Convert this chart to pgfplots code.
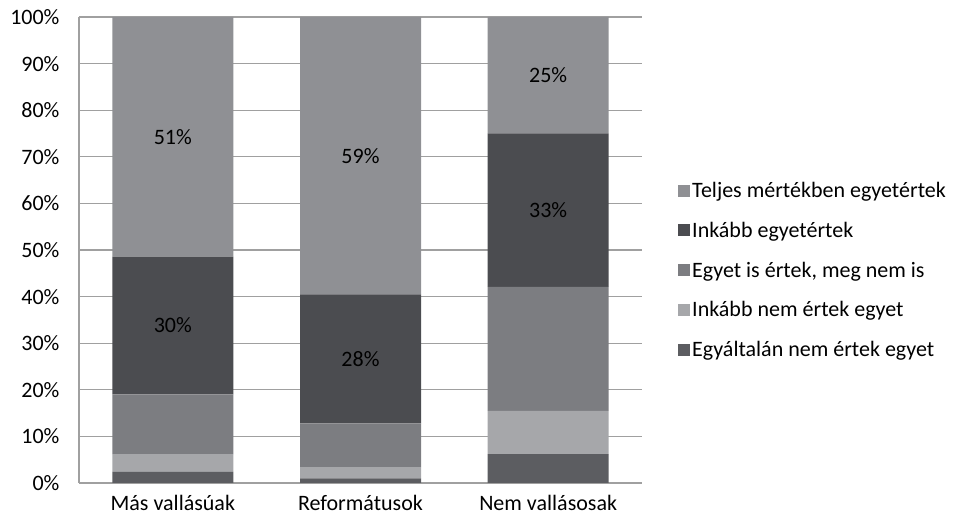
\documentclass[border=0pt]{standalone}
\usepackage{fontspec}
\setmainfont{Carlito}
\usepackage{pgfplots}
\pgfplotsset{compat=1.18}

\definecolor{cTeljes}{HTML}{8F9094}
\definecolor{cInkabb}{HTML}{4B4C50}
\definecolor{cEgyet}{HTML}{7C7D81}
\definecolor{cInkNem}{HTML}{A6A7AA}
\definecolor{cEgyalt}{HTML}{5C5D61}
\definecolor{gridgray}{HTML}{A0A0A0}

\newcommand{\lblfont}{\fontsize{22}{26}\selectfont}

\begin{document}
\begin{tikzpicture}
\useasboundingbox (-79pt,-39pt) rectangle (875pt,483pt);
\begin{axis}[
    at={(0pt,0pt)}, anchor=south west,
    scale only axis,
    width=563pt, height=466pt,
    ybar stacked,
    bar width=121pt,
    xmin=-0.5, xmax=2.5,
    ymin=0, ymax=100,
    xtick={0,1,2},
    xticklabels={Más vallásúak, Reformátusok, Nem vallásosak},
    ytick={0,10,...,100},
    yticklabel={\pgfmathprintnumber{\tick}\%},
    /pgf/number format/assume math mode=true,
    tick label style={font=\lblfont, text=black},
    yticklabel style={xshift=-16pt},
    xticklabel style={yshift=-9pt},
    major tick length=0pt,
    axis x line*=bottom,
    axis y line*=left,
    axis line style={draw=gridgray, line width=1.2pt},
    ymajorgrids,
    major grid style={draw=gridgray, line width=1.2pt},
    reverse legend,
    legend cell align=left,
    legend image code/.code={\fill[#1] (0pt,-6pt) rectangle (12pt,6pt);},
    legend style={draw=none, fill=none, at={(1.064,0.65)}, anchor=north west,
        font=\lblfont, row sep=19pt, inner sep=0pt},
]
\addplot[fill=cEgyalt, draw=none] coordinates {(0,2.4) (1,1.0) (2,6.2)};
\addplot[fill=cInkNem, draw=none] coordinates {(0,3.8) (1,2.4) (2,9.3)};
\addplot[fill=cEgyet, draw=none] coordinates {(0,12.8) (1,9.4) (2,26.6)};
\addplot[fill=cInkabb, draw=none] coordinates {(0,29.6) (1,27.7) (2,32.9)};
\addplot[fill=cTeljes, draw=none] coordinates {(0,51.4) (1,59.5) (2,25.0)};
\legend{Egyáltalán nem értek egyet, Inkább nem értek egyet, {Egyet is értek, meg nem is}, Inkább egyetértek, Teljes mértékben egyetértek}

% where the segment labels go
\coordinate (a1) at (axis cs:0,74.3);
\coordinate (a2) at (axis cs:0,33.8);
\coordinate (b1) at (axis cs:1,70.25);
\coordinate (b2) at (axis cs:1,26.65);
\coordinate (c1) at (axis cs:2,87.5);
\coordinate (c2) at (axis cs:2,58.55);
\end{axis}
\node[font=\lblfont] at (a1) {51\%};
\node[font=\lblfont] at (a2) {30\%};
\node[font=\lblfont] at (b1) {59\%};
\node[font=\lblfont] at (b2) {28\%};
\node[font=\lblfont] at (c1) {25\%};
\node[font=\lblfont] at (c2) {33\%};
\end{tikzpicture}
\end{document}
